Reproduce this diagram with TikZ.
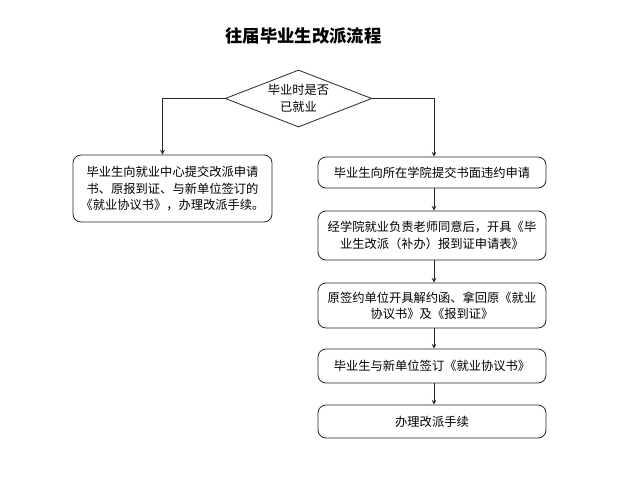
\documentclass[tikz,border=0pt]{standalone}
\usepackage{fontspec}
\newfontfamily\cjk{Noto Sans CJK SC}
\usetikzlibrary{shapes.geometric}

\tikzset{
  stepbox/.style={draw=black!85, line width=0.6pt, rounded corners=6pt, align=center,
    inner sep=0pt, font=\cjk\fontsize{9.2}{12.2}\selectfont},
  askbox/.style={draw=black!85, line width=0.6pt, diamond, aspect=2.58, inner sep=0pt,
    minimum width=110pt, minimum height=42.75pt, align=center,
    font=\cjk\fontsize{9.2}{12.2}\selectfont},
  flow/.style={draw=black!85, line width=0.6pt, -stealth}
}

\begin{document}
\begin{tikzpicture}[x=0.75pt,y=0.75pt,yscale=-1,xscale=1]
\useasboundingbox (0,0) rectangle (628,500);

% Title
\node (title) at (303.5,36) {\cjk\bfseries\fontsize{13}{15}\selectfont 往届毕业生改派流程};

% Decision
\node [askbox] (ask) at (298.5,98.5) {毕业时是否\\已就业};

% Left branch
\node [stepbox, minimum width=149.25pt, minimum height=50.25pt] (center) at (172.5,188.5)
  {毕业生向就业中心提交改派申请\\书、原报到证、与新单位签订的\\《就业协议书》，办理改派手续。};

% Right branch
\node [stepbox, minimum width=171pt, minimum height=23.25pt] (apply) at (432,172.5)
  {毕业生向所在学院提交书面违约申请};
\node [stepbox, minimum width=171pt, minimum height=36.75pt] (agree) at (432,235.5)
  {经学院就业负责老师同意后，开具《毕\\业生改派（补办）报到证申请表》};
\node [stepbox, minimum width=171pt, minimum height=33.75pt] (release) at (432,305.5)
  {原签约单位开具解约函、拿回原《就业\\协议书》及《报到证》};
\node [stepbox, minimum width=171pt, minimum height=25.5pt] (sign) at (432,366)
  {毕业生与新单位签订《就业协议书》};
\node [stepbox, minimum width=171pt, minimum height=24.75pt] (finish) at (432,421.5)
  {办理改派手续};

% Connectors
\draw [flow] (ask.west) -| ([xshift=-7.5pt]center.north);
\draw [flow] (ask.east) -| ([xshift=1.5pt]apply.north);
\draw [flow] ([xshift=1.5pt]apply.south) -- ([xshift=1.5pt]agree.north);
\draw [flow] ([xshift=1.5pt]agree.south) -- ([xshift=1.5pt]release.north);
\draw [flow] ([xshift=1.5pt]release.south) -- ([xshift=1.5pt]sign.north);
\draw [flow] ([xshift=1.5pt]sign.south) -- ([xshift=1.5pt]finish.north);

\end{tikzpicture}
\end{document}
